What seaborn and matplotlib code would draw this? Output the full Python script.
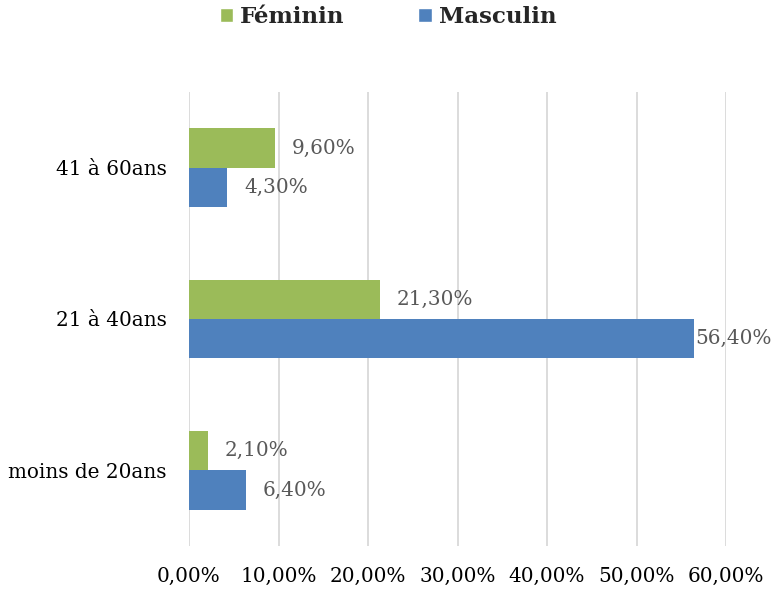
import matplotlib
matplotlib.use("Agg")
import matplotlib.pyplot as plt
import seaborn as sns
import pandas as pd
from matplotlib.patches import Patch

categories = ["41 à 60ans", "21 à 40ans", "moins de 20ans"]
feminin = [9.6, 21.3, 2.1]
masculin = [4.3, 56.4, 6.4]
series = ["Féminin", "Masculin"]
colors = ["#9BBB59", "#4F81BD"]
xticks = [0, 10, 20, 30, 40, 50, 60]
xtick_labels = ["0,00%", "10,00%", "20,00%", "30,00%", "40,00%", "50,00%", "60,00%"]

rows = []
for c, f, m in zip(categories, feminin, masculin):
    rows.append({"cat": c, "sexe": series[0], "val": f})
    rows.append({"cat": c, "sexe": series[1], "val": m})
df = pd.DataFrame(rows)

sns.set_theme(style="white")
plt.rcParams["font.family"] = ["DejaVu Serif"]

W, H = 776, 593
fig = plt.figure(figsize=(W/100, H/100), dpi=100)
ax = fig.add_axes([189/W, 1-546/H, (726-189)/W, (546-92)/H])

sns.barplot(data=df, y="cat", x="val", hue="sexe", order=categories,
            hue_order=series, palette=colors, orient="h", width=0.52,
            saturation=1, ax=ax, legend=False, errorbar=None, linewidth=0)

FS = 14.4
ax.set_xlim(0, 60)
ax.set_ylim(2.5, -0.5)
ax.set_xticks(xticks)
ax.set_xticklabels(xtick_labels, fontsize=FS, color="#000000")
ax.tick_params(axis="x", length=0, pad=15)
ax.tick_params(axis="y", length=0, pad=16, labelsize=FS, labelcolor="#000000")
ax.set_xlabel("")
ax.set_ylabel("")
ax.xaxis.grid(True, color="#D9D9D9", linewidth=1.3)
ax.set_axisbelow(True)
for s in ax.spines.values():
    s.set_visible(False)

fig.canvas.draw()
renderer = fig.canvas.get_renderer()
vals = [feminin, masculin]
for hi, cont in enumerate(ax.containers):
    for ci, bar in enumerate(cont):
        v = vals[hi][ci]
        txt = f"{v:.2f}".replace(".", ",") + "%"
        yc = bar.get_y() + bar.get_height()/2
        t = ax.annotate(txt, xy=(bar.get_width(), yc), xytext=(12, 0),
                        textcoords="offset points", va="center", ha="left",
                        fontsize=FS, color="#595959", annotation_clip=False)
        bb = t.get_window_extent(renderer)
        if bb.x1 > W - 3:
            t.remove()
            ax.annotate(txt, xy=(bar.get_width(), yc), xytext=(1, 0),
                        textcoords="offset points", va="center", ha="left",
                        fontsize=FS, color="#595959", annotation_clip=False)

handles = [Patch(facecolor=c, label=s) for c, s in zip(colors, series)]
fig.legend(handles=handles, loc="center", bbox_to_anchor=(0.5, 1-17/H), ncol=2,
           frameon=False, prop={"weight": "bold", "size": 16.5},
           handlelength=0.6, handleheight=0.6, handletextpad=0.3, columnspacing=3.2)

fig.savefig("out.png", dpi=100)
